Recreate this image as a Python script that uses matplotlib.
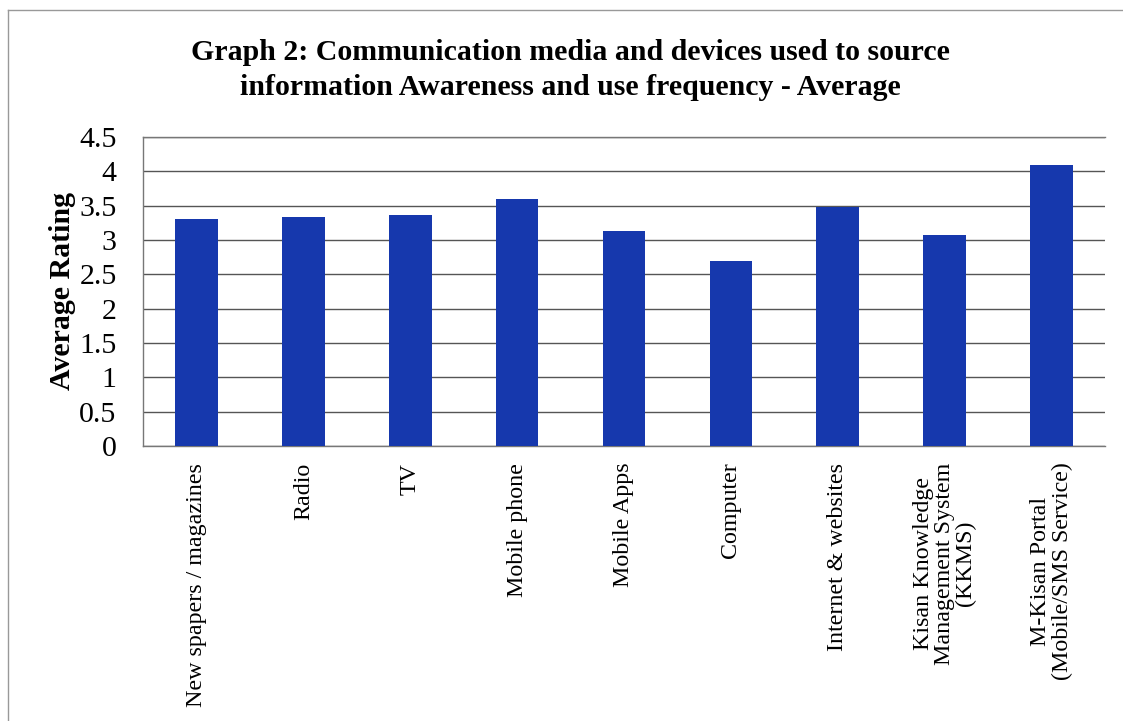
import matplotlib
matplotlib.use('Agg')
import matplotlib.pyplot as plt
import numpy as np

#------------------------------------------------------------------------
# Data
#------------------------------------------------------------------------
categories = ['New spapers / magazines', 'Radio', 'TV', 'Mobile phone',
              'Mobile Apps', 'Computer', 'Internet & websites',
              'Kisan Knowledge\nManagement System\n(KKMS)',
              'M-Kisan Portal\n(Mobile/SMS Service)']
ratings    = [3.31, 3.33, 3.36, 3.59, 3.13, 2.69, 3.48, 3.07, 4.09]
y_ticks    = [0, 0.5, 1, 1.5, 2, 2.5, 3, 3.5, 4, 4.5]
y_labels   = ['0', '0.5', '1', '1.5', '2', '2.5', '3', '3.5', '4', '4.5']

title = ('Graph 2: Communication media and devices used to source\n'
         'information Awareness and use frequency - Average')

plt.rcParams['font.family'] = ['Liberation Serif', 'DejaVu Serif']

#------------------------------------------------------------------------
fig = plt.figure(figsize=(11.23, 7.21), dpi=100)
fig.patch.set_facecolor('white')
ax = fig.add_axes([143/1123, 1 - 446/721, (1105-143)/1123, (446-137)/721])

x = np.arange(len(categories))
ax.bar(x, ratings, width=0.4, color='#1638ad', zorder=3)

ax.set_xlim(-0.5, len(categories) - 0.5)
ax.set_ylim(0, 4.5)
ax.set_yticks(y_ticks)
ax.set_yticklabels(y_labels, fontsize=21.5)
ax.yaxis.grid(True, color='#555555', linewidth=1.0, zorder=0)
ax.tick_params(axis='y', length=0, pad=19)
ax.tick_params(axis='x', length=0, pad=12)

ax.set_xticks(x)
ax.set_xticklabels(categories, rotation=90, fontsize=17.3,
                   ha='center', va='top', multialignment='center',
                   linespacing=1.0)

ax.set_ylabel('Average Rating', fontsize=21.5, fontweight='bold', labelpad=2)

for side in ['right']:
    ax.spines[side].set_visible(False)
for side in ['left', 'top', 'bottom']:
    ax.spines[side].set_color('#777777')
    ax.spines[side].set_linewidth(1.0)

fig.text(0.508, 1 - 70/721, title, ha='center', va='center',
         fontsize=21.5, fontweight='bold', linespacing=1.35)

# page edge from the scan
fig.add_artist(plt.Line2D([8/1123, 8/1123], [0, 1 - 10/721],
                          color='#999999', linewidth=1.0))
fig.add_artist(plt.Line2D([8/1123, 1], [1 - 10/721, 1 - 10/721],
                          color='#999999', linewidth=1.0))

plt.savefig('out.png', dpi=100)
plt.close()
